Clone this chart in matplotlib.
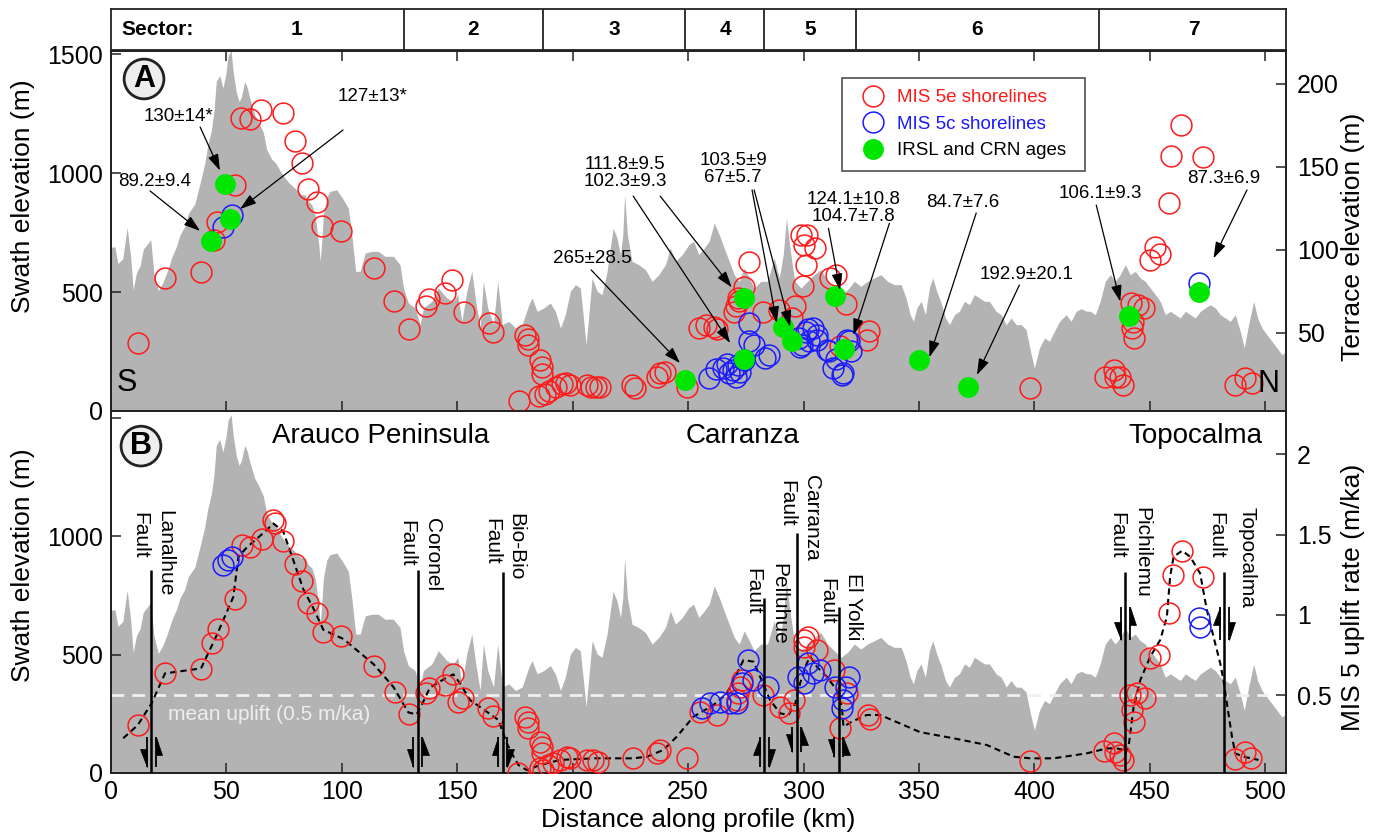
import numpy as np
import matplotlib
matplotlib.use('Agg')
import matplotlib.pyplot as plt
from matplotlib.lines import Line2D
from matplotlib.patches import Polygon

plt.rcParams['font.family'] = ['Liberation Sans', 'DejaVu Sans']

# ---------------- data ----------------
profile_km = [0, 1.7, 3.0, 5.1, 7.0, 8.5, 9.6, 11.0, 12.6, 14.0, 16.0, 17.2, 18.6, 20.5, 22.5, 24.1,
              26.5, 28.3, 29.9, 31.9, 33.5, 36.3, 38.4, 40.6, 42.0, 43.5, 44.6, 45.6, 47.1, 48.5, 49.8,
              50.7, 52.0, 53.0, 54.3, 55.5, 56.5, 57.9, 59.0, 60.1, 62.3, 63.7, 66.0, 67.4, 69.5, 71.5,
              73.2, 75.3, 77.0, 79.6, 82.5, 84.1, 85.5, 87.0, 88.5, 90.0, 90.6, 91.2, 92.0, 93.5, 94.9,
              97.8, 100.7, 102.8, 104.3, 106.0, 107.9, 110.1, 113.0, 115.8, 118.7, 122.3, 125.2, 126.7,
              128.8, 131.7, 133.9, 135.3, 139.0, 141.8, 145.5, 148.3, 150.2, 152.0, 154.1, 156.3, 158.0,
              159.9, 161.3, 163.2, 165.7, 167.5, 169.6, 172.3, 175.2, 178.1, 181.0, 182.4, 184.6, 187.5,
              190.3, 192.5, 194.7, 196.8, 199.0, 201.2, 203.3, 204.8, 205.8, 207.0, 208.4, 210.6, 212.7,
              214.9, 216.3, 217.5, 219.2, 220.7, 221.7, 222.5, 223.7, 225.7, 228.6, 231.5, 234.4, 237.3,
              240.2, 242.3, 244.5, 247.4, 250.3, 252.4, 254.6, 257.0, 259.1, 261.3, 263.5, 265.6, 267.8,
              270.0, 272.1, 274.3, 276.5, 278.6, 281.5, 284.4, 287.3, 289.5, 291.2, 292.6, 294.1, 296.2,
              298.9, 301.7, 304.6, 307.5, 310.4, 313.3, 316.2, 319.1, 322.0, 324.8, 327.7, 330.6, 333.5,
              336.4, 339.3, 342.3, 344.4, 346.2, 347.6, 349.1, 350.9, 352.8, 354.5, 356.0, 357.7, 359.6,
              361.5, 363.2, 365.4, 367.5, 369.7, 371.9, 374.0, 376.2, 378.4, 380.5, 383.4, 385.6, 387.8,
              389.9, 392.1, 394.3, 396.4, 398.3, 400.0, 402.2, 404.4, 406.5, 408.7, 410.9, 413.8, 415.9,
              418.1, 420.3, 422.4, 424.2, 426.4, 428.5, 430.7, 432.9, 435.0, 437.2, 439.4, 441.5, 443.7,
              445.9, 448.0, 450.2, 452.4, 454.5, 456.7, 458.9, 461.0, 463.2, 465.4, 467.5, 469.7, 471.9,
              474.0, 476.2, 478.4, 480.5, 482.7, 484.9, 487.0, 489.2, 490.9, 492.8, 495.0, 496.7, 498.6,
              500.7, 502.9, 505.1, 507.2, 509.4]
profile_elev = [688, 690, 620, 640, 772, 650, 510, 580, 610, 680, 705, 720, 580, 505, 540, 580,
                650, 690, 740, 775, 830, 870, 950, 1040, 1120, 1180, 1260, 1385, 1410, 1357, 1420,
                1490, 1515, 1420, 1340, 1300, 1320, 1385, 1360, 1315, 1245, 1220, 1170, 1100, 1060, 1040,
                1010, 980, 960, 937, 909, 909, 880, 867, 820, 700, 629, 700, 825, 900, 923,
                930, 888, 853, 741, 587, 587, 664, 671, 671, 650, 650, 615, 517,
                454, 433, 363, 433, 461, 517, 475, 461, 489, 377, 503, 587, 461,
                349, 545, 433, 363, 545, 363, 377, 349, 363, 447, 475, 419, 433,
                454, 419, 349, 405, 503, 531, 517, 377, 279, 405, 559, 503, 489,
                587, 685, 769, 727, 657, 741, 909, 741, 629, 615, 594, 545, 573,
                615, 685, 629, 657, 699, 713, 657, 685, 713, 790, 741, 685, 629,
                573, 545, 601, 559, 517, 545, 545, 643, 559, 657, 811, 685, 545,
                517, 545, 573, 594, 545, 517, 489, 510, 545, 524, 545, 559, 573,
                545, 531, 531, 475, 405, 377, 433, 461, 405, 517, 559, 503, 454,
                391, 363, 405, 419, 461, 447, 489, 475, 461, 461, 419, 405, 363,
                391, 363, 363, 342, 251, 181, 265, 307, 293, 335, 377, 405, 377,
                419, 430, 420, 419, 405, 461, 545, 573, 545, 573, 615, 573, 587,
                559, 545, 517, 489, 461, 405, 419, 405, 391, 419, 405, 391, 419,
                433, 447, 433, 405, 391, 377, 405, 335, 265, 363, 461, 391, 349,
                321, 293, 265, 237, 251]

# Panel A: shoreline terrace elevations (m)
mis5e_a_km = [11.5, 23.4, 39.2, 45.9, 53.5, 44.6, 56.4, 60.1, 65.0, 74.6, 79.8, 82.7, 85.3, 89.1, 91.6,
              99.6, 114.0, 122.8, 129.1, 136.4, 137.8, 144.6, 147.8, 152.7, 163.9, 165.4,
              176.6, 179.4, 180.5, 180.8, 185.9, 186.5, 186.5, 185.6, 187.8, 189.9, 192.8, 195.5, 197.3,
              199.0, 206.1, 208.0, 209.9, 212.0, 225.9, 227.2, 236.5, 238.0, 240.2, 249.5,
              254.9, 257.7, 261.2, 262.4, 276.3, 274.0, 272.1, 270.7, 269.7, 271.5, 282.4, 289.3, 296.5,
              295.2, 299.0, 301.5, 300.0, 305.1, 301.2, 299.8, 311.6, 314.2, 318.5, 316.0, 328.2, 327.7,
              397.9, 430.7, 434.3, 435.0, 437.2, 438.6, 441.8, 444.7, 447.6, 442.7, 442.2, 443.2, 450.2,
              452.3, 454.5, 458.1, 459.1, 463.6, 473.0, 487.0, 491.3, 494.2]
mis5e_a_elev = [44, 83, 86.4, 116.7, 139.2, 105.9, 179.4, 178.6, 184, 182.4, 165.2, 152.2, 136.7, 128.5, 114.2,
                111.3, 88.8, 68.9, 52.1, 66.3, 70.5, 74.1, 81.9, 62.3, 56.1, 50.7,
                9.1, 48.5, 46.5, 42.5, 33.4, 29.4, 25.2, 11.9, 13, 15, 17, 19, 19.5,
                18.5, 18.4, 17.5, 17.4, 17.5, 18.5, 16.6, 23.5, 26, 26.6, 17.5,
                53.1, 54.7, 53.6, 52.5, 92.3, 77.5, 68.8, 65.8, 62.7, 71, 62.7, 63.6, 66.2,
                58.7, 108.8, 108.8, 102.7, 100.8, 90.8, 78.2, 83.2, 84.7, 67.1, 42, 51.1, 45.7,
                16.6, 23.6, 27.6, 23.6, 23.6, 18.2, 67.8, 66.7, 64.8, 56.7, 52.7, 47.1, 93.9,
                101.5, 97.5, 128.4, 156.7, 175.2, 155.7, 18.6, 22.6, 19.6]
mis5c_a_km = [48.4, 52.3, 259.2, 262.2, 265.0, 266.8, 267.8, 269.6, 270.7, 272.6, 271.4, 274.0, 276.2,
              278.4, 276.4, 283.2, 285.1, 298.1, 298.5, 299.5, 301.0, 302.1, 302.4, 303.9, 305.8, 306.0,
              310.1, 311.1, 312.6, 314.2, 316.6, 316.9, 318.8, 319.8, 320.5, 471.1]
mis5c_a_elev = [113.7, 120.8, 23, 28, 28.6, 31.4, 25.6, 27.4, 23.6, 26.5, 30.6, 33.4, 56.1,
                42.6, 44.7, 35, 36.6, 46.7, 41.4, 42.6, 50.7, 52.5, 44.7, 52.7, 45.5, 48.7,
                39.5, 38.7, 28.6, 34, 24.4, 25.6, 45.5, 44.7, 38.7, 79.8]
age_km = [43.2, 49.4, 51.6, 248.8, 274.0, 274.0, 291.3, 295.2, 313.7, 317.7, 350.2, 371.2, 440.8, 471.5]
age_elev = [105.3, 139.3, 118.4, 21.6, 71, 34.4, 53.5, 44.9, 72, 40.1, 33.6, 17, 60.1, 74.8]

# Panel B: MIS 5 uplift rates (m/ka)
mis5e_b_km = [11.6, 23.4, 39.0, 43.9, 46.5, 53.7, 56.6, 60.2, 65.3, 70.0, 71.1, 74.6, 79.7, 82.9, 85.5,
              89.1, 91.7, 99.7, 114.1, 123.1, 129.1, 136.5, 137.9, 144.7, 148.0, 150.5, 152.6, 163.5, 165.6,
              176.5, 179.4, 180.8, 180.8, 185.9, 186.6, 186.6, 185.9, 187.3, 189.5, 191.6, 194.5, 197.4,
              198.9, 206.1, 209.0, 211.1, 226.3, 236.4, 237.9, 249.4,
              255.2, 262.4, 271.1, 271.8, 272.5, 273.2, 282.6, 289.9, 293.5, 295.7, 300.0, 302.1, 305.8,
              300.0, 313.0, 318.8, 315.9, 328.1, 329.0,
              397.9, 430.0, 434.4, 435.1, 437.2, 438.6, 443.0, 442.2, 441.5, 444.4, 448.0, 450.2, 453.8,
              458.2, 459.9, 464.0, 472.9, 487.0, 491.4, 494.0]
mis5e_b_rate = [0.314, 0.636, 0.663, 0.823, 0.910, 1.099, 1.435, 1.425, 1.471, 1.591, 1.574, 1.460, 1.315, 1.213, 1.076,
                1.014, 0.895, 0.870, 0.682, 0.522, 0.381, 0.512, 0.543, 0.564, 0.630, 0.460, 0.481, 0.418, 0.372,
                0.014, 0.366, 0.335, 0.294, 0.210, 0.179, 0.138, 0.045, 0.034, 0.065, 0.076, 0.097, 0.117,
                0.107, 0.097, 0.097, 0.086, 0.107, 0.138, 0.159, 0.107,
                0.397, 0.377, 0.470, 0.512, 0.553, 0.595, 0.501, 0.428, 0.387, 0.470, 0.844, 0.864, 0.781,
                0.802, 0.657, 0.512, 0.294, 0.377, 0.350,
                0.092, 0.154, 0.200, 0.148, 0.128, 0.097, 0.335, 0.408, 0.501, 0.512, 0.481, 0.730, 0.750,
                1.010, 1.248, 1.400, 1.238, 0.103, 0.148, 0.111]
mis5c_b_km = [48.4, 50.8, 52.5, 255.9, 259.5, 263.8, 268.2, 271.1, 273.2, 276.1, 278.3, 284.8, 297.8,
              300.0, 302.1, 304.3, 307.2, 313.7, 316.6, 317.3, 319.5, 318.5, 471.1, 471.6]
mis5c_b_rate = [1.311, 1.342, 1.362, 0.418, 0.449, 0.460, 0.449, 0.449, 0.574, 0.719, 0.595, 0.553, 0.615,
                0.574, 0.699, 0.636, 0.657, 0.553, 0.418, 0.470, 0.615, 0.550, 0.979, 0.927]
trend_km = [5.3, 11.6, 17.6, 23.4, 39.0, 46.0, 53.0, 55.2, 58.8, 67.5, 70.3, 74.6, 79.0, 83.3, 87.7, 92.0,
            100.7, 113.7, 122.4, 128.8, 132.4, 134.6, 138.2, 145.4, 148.3, 151.2, 155.5, 162.8, 167.8,
            171.5, 173.6, 176.5, 180.1, 185.9, 194.5, 209.0, 226.3, 232.1, 239.3, 245.1, 252.3, 261.0,
            266.8, 271.1, 274.0, 278.3, 281.2, 285.5, 289.9, 293.5, 296.4, 298.5, 301.4, 302.9, 305.8,
            310.1, 314.4, 316.6, 317.3, 320.9, 327.4, 333.2, 350.5, 364.9, 379.4, 391.0, 398.2, 408.3,
            422.7, 431.4, 435.7, 438.6, 439.4, 440.8, 443.0, 445.9, 450.2, 454.5, 457.4, 458.8, 460.3,
            464.0, 467.5, 471.8, 474.7, 477.6, 480.5, 481.9, 483.4, 485.6, 487.0, 490.6, 497.1]
trend_rate = [0.232, 0.314, 0.450, 0.636, 0.667, 0.880, 1.113, 1.362, 1.420, 1.529, 1.570, 1.520, 1.340, 1.160,
              1.040, 0.907, 0.850, 0.694, 0.550, 0.393, 0.380, 0.440, 0.548, 0.610, 0.630, 0.574, 0.470,
              0.397, 0.346, 0.200, 0.138, 0.065, 0.034, 0.065, 0.097, 0.107, 0.107, 0.117, 0.159, 0.242,
              0.366, 0.439, 0.512, 0.636, 0.719, 0.709, 0.615, 0.470, 0.387, 0.377, 0.449, 0.574, 0.699,
              0.740, 0.677, 0.615, 0.532, 0.428, 0.304, 0.335, 0.377, 0.377, 0.270, 0.232, 0.190, 0.117,
              0.107, 0.107, 0.138, 0.169, 0.169, 0.159, 0.138, 0.179, 0.428, 0.595, 0.740, 0.844, 0.989,
              1.238, 1.362, 1.400, 1.362, 1.259, 1.031, 0.864, 0.699, 0.595, 0.449, 0.242, 0.138, 0.117,
              0.097]
mean_uplift = 0.5

# Faults
fault_names = ['Lanalhue', 'Coronel', 'Bio-Bio', 'Pelluhue', 'Carranza', 'El Yolki', 'Pichilemu', 'Topocalma']
fault_km = [17.5, 132.9, 169.7, 282.9, 297.1, 315.2, 439.3, 482.2]
fault_left_motion = ['down', 'down', 'up', 'up', 'down', 'down', 'down', 'up']

# Sectors
sector_names = ['1', '2', '3', '4', '5', '6', '7']
sector_bounds = [127.0, 187.2, 248.7, 283.0, 322.8, 428.0]

# Age labels (ka)
ann_labels = ['130±14*', '89.2±9.4', '127±13*', '265±28.5', '111.8±9.5\n102.3±9.3', '103.5±9\n67±5.7',
              '124.1±10.8\n104.7±7.8', '84.7±7.6', '192.9±20.1', '106.1±9.3', '87.3±6.9']

# ---------------- layout (positions only) ----------------
ann_text_xy = [(29.2, 180.0), (19.1, 140.8), (113.5, 192.0), (208.4, 94.4), (222.7, 146.2), (269.5, 148.6),
               (321.5, 125.1), (369.0, 128.4), (396.8, 85.2), (428.5, 134.0), (481.9, 143.0)]
ann_arrows = [[((38.6, 173.9), (47.2, 147.7))],
              [((16.9, 135.4), (38.6, 111.3))],
              [((100.5, 172.1), (55.9, 124.5))],
              [((208.0, 87.8), (246.5, 31.7))],
              [((226.2, 132.3), (268.2, 43.8)), ((237.9, 132.3), (268.9, 77.3))],
              [((277.7, 136.0), (288.4, 56.0)), ((278.6, 136.0), (294.2, 53.6))],
              [((310.8, 112.9), (315.8, 75.7)), ((337.2, 115.9), (321.6, 48.6))],
              [((374.8, 122.1), (354.5, 35.2))],
              [((393.5, 78.7), (375.1, 24.5))],
              [((426.8, 126.9), (437.2, 68.7))],
              [((492.1, 136.0), (477.6, 94.8))]]
fault_top = [1.28, 1.28, 1.269, 1.105, 1.508, 1.051, 1.269, 1.269]
fault_lab_x = [(12.6, 23.4), (128.2, 139.3), (164.9, 175.5), (278.0, 289.1), (292.7, 303.6),
               (310.1, 321.6), (435.7, 446.7), (478.5, 492.1)]
fault_lab_top = [(1.641, 1.653), (1.591, 1.603), (1.603, 1.634), (1.292, 1.323), (1.840, 1.871),
                 (1.230, 1.261), (1.643, 1.674), (1.643, 1.674)]
fault_arrow_y = [(0.053, 0.24), (0.053, 0.24), (0.053, 0.24), (0.053, 0.24), (0.146, 0.302),
                 (0.115, 0.24), (0.844, 1.05), (0.844, 1.05)]
sector_label_x = [80.2, 157.0, 218.0, 266.0, 303.0, 375.0, 469.0]

W, H = 1381, 839
XLIM = (0, 509)
RED, BLUE, GREEN = '#ff1a1a', '#1a1aff', '#00e600'
GRAY = '#b3b3b3'


def rect(x0, y0, x1, y1):
    return [x0 / W, 1 - y1 / H, (x1 - x0) / W, (y1 - y0) / H]


fig = plt.figure(figsize=(W / 100, H / 100), dpi=100)
ax_s = fig.add_axes(rect(111, 9, 1286, 49.5))
axA = fig.add_axes(rect(111, 50.5, 1286, 411))
axB = fig.add_axes(rect(111, 411, 1286, 773))
axA2 = axA.twinx()
axB2 = axB.twinx()

for ax in (ax_s, axA, axB, axA2, axB2):
    ax.set_xlim(*XLIM)
    for sp in ax.spines.values():
        sp.set_linewidth(1.3)
        sp.set_color('#222222')

# ---- sector bar ----
ax_s.set_ylim(0, 1)
ax_s.set_xticks([])
ax_s.set_yticks([])
for b in sector_bounds:
    ax_s.axvline(b, color='#222222', lw=1.3)
ax_s.text(20.3, 0.5, 'Sector:', ha='center', va='center', fontsize=15, fontweight='bold')
for name, x in zip(sector_names, sector_label_x):
    ax_s.text(x, 0.5, name, ha='center', va='center', fontsize=15, fontweight='bold')

tick_kw = dict(direction='in', length=7, width=1.1, labelsize=18, color='#222222')

# ---- panel A ----
axA.fill_between(profile_km, 0, profile_elev, color=GRAY, lw=0, zorder=1)
axA.set_ylim(0, 1515)
axA2.set_ylim(2.83, 220)
axA.set_xticks(np.arange(0, 501, 50))
axA.tick_params(axis='x', which='both', top=True, bottom=True, labelbottom=False, **tick_kw)
axA.tick_params(axis='y', pad=6, **tick_kw)
axA.set_yticks([0, 500, 1000, 1500])
axA2.set_yticks([50, 100, 150, 200])
axA2.tick_params(axis='y', pad=8, **tick_kw)
axA.set_ylabel('Swath elevation (m)', fontsize=19)
axA.yaxis.set_label_coords(-0.0647, 0.596)
axA2.set_ylabel('Terrace elevation (m)', fontsize=19)
axA2.yaxis.set_label_coords(1.0468, 0.483)

mk = dict(ls='none', marker='o', ms=15, mfc='none', mew=1.1)
axA2.plot(mis5e_a_km, mis5e_a_elev, mec=RED, zorder=3, **mk)
axA2.plot(mis5c_a_km, mis5c_a_elev, mec=BLUE, zorder=4, **mk)
axA2.plot(age_km, age_elev, ls='none', marker='o', ms=14, mfc=GREEN, mec=GREEN, zorder=5)

for lab, (tx, ty), arrows in zip(ann_labels, ann_text_xy, ann_arrows):
    axA2.text(tx, ty, lab, ha='center', va='center', fontsize=13.5, linespacing=1.0, zorder=6)
    for (x0, y0), (x1, y1) in arrows:
        axA2.annotate('', xy=(x1, y1), xytext=(x0, y0), zorder=6,
                      arrowprops=dict(arrowstyle='-|>,head_length=0.55,head_width=0.18', color='k',
                                      lw=0.9, shrinkA=0, shrinkB=0, mutation_scale=18))

axA2.text(0.0281, 0.921, 'A', transform=axA2.transAxes, ha='center', va='center', fontsize=22,
          fontweight='bold', bbox=dict(boxstyle='circle,pad=0.16', fc='#eeeeee', ec='#222222', lw=2))
axA2.text(0.0136, 0.078, 'S', transform=axA2.transAxes, ha='center', va='center', fontsize=22)
axA2.text(0.985, 0.075, 'N', transform=axA2.transAxes, ha='center', va='center', fontsize=22)

handles = [Line2D([], [], mec=RED, **mk), Line2D([], [], mec=BLUE, **mk),
           Line2D([], [], ls='none', marker='o', ms=14, mfc=GREEN, mec=GREEN)]
leg = axA2.legend(handles, ['MIS 5e shorelines', 'MIS 5c shorelines', 'IRSL and CRN ages'],
                  loc='upper left', bbox_to_anchor=(0.622, 0.924, 0.207, 0.0), mode='expand',
                  fontsize=13.5, frameon=True, fancybox=False, borderpad=0.6, handlelength=2.1,
                  handletextpad=0.25, labelspacing=0.5, borderaxespad=0)
leg.get_frame().set_edgecolor('#222222')
leg.get_frame().set_linewidth(1.2)
for t, c in zip(leg.get_texts(), [RED, BLUE, 'black']):
    t.set_color(c)

# ---- panel B ----
axB.fill_between(profile_km, 0, profile_elev, color=GRAY, lw=0, zorder=1)
axB.set_ylim(0, 1530)
axB2.set_ylim(0.0156, 2.27)
axB.set_xticks(np.arange(0, 501, 50))
axB.tick_params(axis='x', pad=5, **tick_kw)
axB.tick_params(axis='y', pad=6, **tick_kw)
axB.set_yticks([0, 500, 1000, 1500])
axB.set_yticklabels(['0', '500', '1000', ''])
axB2.set_yticks([0.5, 1, 1.5, 2])
axB2.set_yticklabels(['0.5', '1', '1.5', '2'])
axB2.tick_params(axis='y', pad=8, **tick_kw)
axB.set_ylabel('Swath elevation (m)', fontsize=19)
axB.yaxis.set_label_coords(-0.0647, 0.575)
axB2.set_ylabel('MIS 5 uplift rate (m/ka)', fontsize=19)
axB2.yaxis.set_label_coords(1.0468, 0.485)
axB.set_xlabel('Distance along profile (km)', fontsize=19)
axB.xaxis.set_label_coords(0.5, -0.097)

axB2.plot([0, 501], [mean_uplift, mean_uplift], color='#f0f0f0', lw=2, ls=(0, (4.6, 2.9)), zorder=2)
axB2.text(24.7, 0.383, 'mean uplift (0.5 m/ka)', color='#eeeeee', fontsize=15, ha='left', va='center')
axB2.plot(trend_km, trend_rate, color='k', lw=1.5, ls=(0, (3, 2)), zorder=3)
axB2.plot(mis5e_b_km, mis5e_b_rate, mec=RED, zorder=4, **mk)
axB2.plot(mis5c_b_km, mis5c_b_rate, mec=BLUE, zorder=5, **mk)

# faults
kx = axB2.bbox.width / (XLIM[1] - XLIM[0])
ylo, yhi = axB2.get_ylim()
ky = axB2.bbox.height / (yhi - ylo)


def half_arrow(ax, x, y_from, y_to, side):
    ax.plot([x, x], [y_from, y_to], color='k', lw=1.3, solid_capstyle='butt', zorder=6)
    d = np.sign(y_to - y_from)
    hl, hw = 18 / ky, 6.5 / kx
    poly = Polygon([(x, y_to), (x, y_to - d * hl), (x + side * hw, y_to - d * hl)],
                   closed=True, fc='k', ec='k', lw=0.5, zorder=6)
    ax.add_patch(poly)


for i, name in enumerate(fault_names):
    x = fault_km[i]
    axB2.plot([x, x], [ylo, fault_top[i]], color='k', lw=1.8, solid_capstyle='butt', zorder=6)
    fx, nx = fault_lab_x[i]
    ft, nt = fault_lab_top[i]
    axB2.text(fx, ft, 'Fault', rotation=270, ha='center', va='top', fontsize=15)
    axB2.text(nx, nt, name, rotation=270, ha='center', va='top', fontsize=15)
    y0, y1 = fault_arrow_y[i]
    off = 4.5 / kx
    if fault_left_motion[i] == 'down':
        half_arrow(axB2, x - off, y1, y0, -1)
        half_arrow(axB2, x + off, y0, y1, +1)
    else:
        half_arrow(axB2, x - off, y0, y1, -1)
        half_arrow(axB2, x + off, y1, y0, +1)

axB2.text(117.0, 2.114, 'Arauco Peninsula', fontsize=20, ha='center', va='center')
axB2.text(273.8, 2.114, 'Carranza', fontsize=20, ha='center', va='center')
axB2.text(469.7, 2.114, 'Topocalma', fontsize=20, ha='center', va='center')
axB2.text(0.0255, 0.903, 'B', transform=axB2.transAxes, ha='center', va='center', fontsize=22,
          fontweight='bold', bbox=dict(boxstyle='circle,pad=0.16', fc='#eeeeee', ec='#222222', lw=2))

fig.savefig('out.png', dpi=100)
